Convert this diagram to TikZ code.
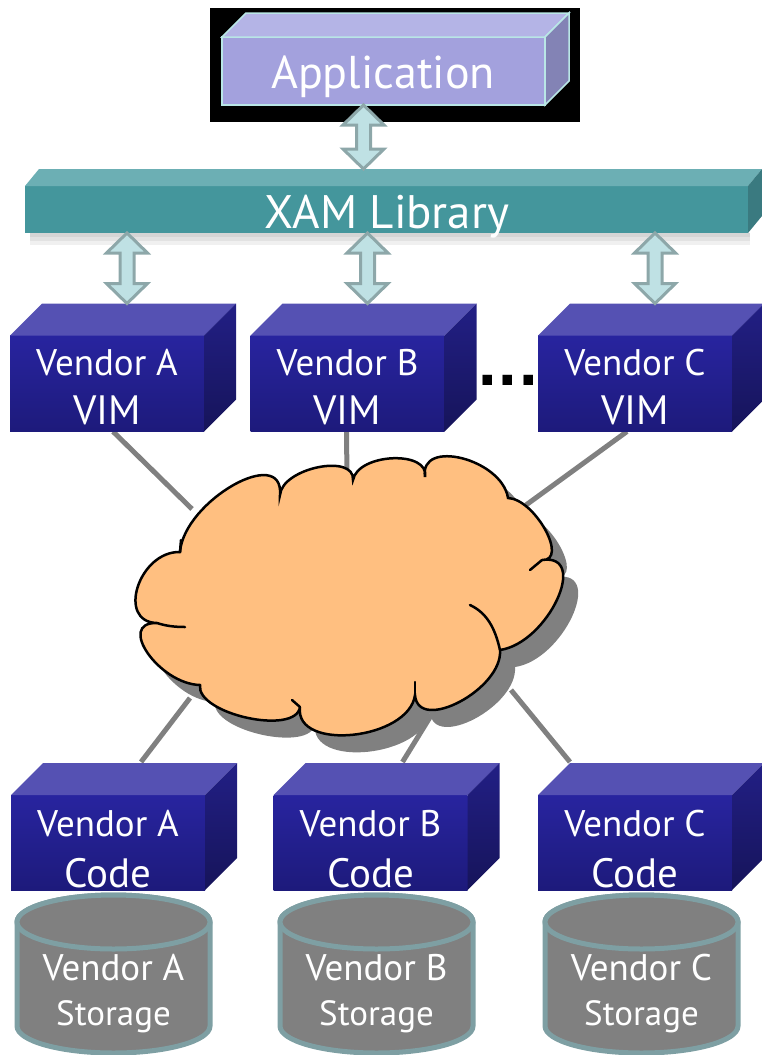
\documentclass[tikz,border=0pt]{standalone}
\usepackage{fontspec}
\setmainfont{PT Sans}
\newfontfamily\dotfont{DejaVu Sans}
\usetikzlibrary{calc}

\definecolor{appfront}{HTML}{A3A1DD}
\definecolor{apptop}{HTML}{B4B4E6}
\definecolor{appside}{HTML}{8383B5}
\definecolor{appedge}{HTML}{B9E6E6}
\definecolor{xamfront}{HTML}{44969C}
\definecolor{xamtop}{HTML}{6CAFB4}
\definecolor{xamside}{HTML}{3A7A80}
\definecolor{bluetopface}{HTML}{5551B3}
\definecolor{bluehi}{HTML}{28249F}
\definecolor{bluelo}{HTML}{1D1A7B}
\definecolor{bluesidehi}{HTML}{221F85}
\definecolor{bluesidelo}{HTML}{16145A}
\definecolor{arrfill}{HTML}{BFE1E4}
\definecolor{arredge}{HTML}{8DA7A9}
\definecolor{wire}{HTML}{808080}
\definecolor{cloudfill}{HTML}{FFBF80}
\definecolor{cloudshade}{HTML}{808080}
\definecolor{cylfill}{HTML}{808080}
\definecolor{cyledge}{HTML}{7E9FA3}

\pgfdeclarelayer{wires}
\pgfsetlayers{wires,main}

% side and top faces of a box whose front face is node #1
\newcommand\boxfaces[5]{%
  \path[#4] (#1.north west) -- ([shift={(#2,-#3)}]#1.north west)
     -- ([shift={(#2,-#3)}]#1.north east) -- (#1.north east) -- cycle;
  \path[#5] (#1.north east) -- ([shift={(#2,-#3)}]#1.north east)
     -- ([shift={(#2,-#3)}]#1.south east) -- (#1.south east) -- cycle;}

% block double arrow between an upper point and a lower point
\newcommand\dblarrow[2]{%
  \path[dblarr] let \p1=#1, \p2=#2 in
    (\x1,\y1) -- (\x1+20.5pt,\y1-20pt) -- (\x1+7pt,\y1-20pt)
    -- (\x1+7pt,\y2+20pt) -- (\x1+20.5pt,\y2+20pt) -- (\x1,\y2)
    -- (\x1-20.5pt,\y2+20pt) -- (\x1-7pt,\y2+20pt)
    -- (\x1-7pt,\y1-20pt) -- (\x1-20.5pt,\y1-20pt) -- cycle;}

% storage cylinder centred at x = #2, with a two-line label
\newcommand\storagecyl[4]{%
  \path[cyl] (#2-96.5,922) -- (#2-96.5,1026)
     arc[start angle=180,end angle=0,x radius=96.5,y radius=27]
     -- (#2+96.5,922)
     arc[start angle=0,end angle=-180,x radius=96.5,y radius=27] -- cycle;
  \path[cyl] (#2,922) ellipse[x radius=96.5,y radius=27];
  \node[stortext] (#1-1) at (#2,980) {#3};
  \node[stortext,font=\fontsize{35}{35}\selectfont] (#1-2) at (#2,1025) {#4};}

% two-line label on the front face of a module box
\newcommand\boxlabel[5]{%
  \node[linetext] (#1-1) at ([yshift=#4pt]#1.center) {#2};
  \node[linetext,font=\fontsize{41}{41}\selectfont] (#1-2) at ([yshift=-#5pt]#1.center) {#3};}

\newcommand\cloudpath{(180,552)
  .. controls (184,501) and (284,444) .. (280,495)
  .. controls (282,468) and (355,453) .. (353,480)
  .. controls (358,453) and (430,450) .. (425,477)
  .. controls (419,438) and (502,459) .. (508,498)
  .. controls (535,499) and (569,561) .. (542,560)
  .. controls (590,553) and (548,643) .. (500,650)
  .. controls (503,689) and (418,734) .. (415,695)
  .. controls (409,740) and (294,752) .. (300,707)
  .. controls (296,736) and (196,714) .. (200,685)
  .. controls (159,684) and (116,622) .. (157,623)
  .. controls (116,622) and (139,551) .. (180,552) -- cycle}

\begin{document}
\begin{tikzpicture}[x=1pt,y=-1pt,
  facebox/.style={inner sep=0pt,outer sep=0pt},
  appface/.style={facebox,fill=appfront,draw=appedge,line width=1.5pt,
     minimum width=323pt,minimum height=68pt},
  apptopface/.style={fill=apptop,draw=appedge,line width=1.5pt},
  appsideface/.style={fill=appside,draw=appedge,line width=1.5pt},
  xamface/.style={facebox,fill=xamfront,minimum width=723pt,minimum height=47pt},
  xamtopface/.style={fill=xamtop},
  xamsideface/.style={fill=xamside},
  blueface/.style={facebox,top color=bluehi,bottom color=bluelo,
     minimum width=194pt,minimum height=96pt},
  bluetop/.style={fill=bluetopface},
  blueside/.style={top color=bluesidehi,bottom color=bluesidelo},
  linetext/.style={text=white,inner sep=0pt,anchor=base,
     font=\fontsize{37}{37}\selectfont},
  bigtext/.style={text=white,inner sep=0pt,anchor=base,
     font=\fontsize{46}{46}\selectfont},
  stortext/.style={text=white,inner sep=0pt,anchor=base,
     font=\fontsize{37}{37}\selectfont},
  cyl/.style={fill=cylfill,draw=cyledge,line width=5pt},
  dblarr/.style={fill=arrfill,draw=arredge,line width=3pt,line join=miter},
  wireline/.style={draw=wire,line width=5pt},
  cloudline/.style={draw=black,line width=2.5pt,line cap=round}]

\useasboundingbox (0,0) rectangle (762,1055);

% application on its black panel
\fill[black] (210,8) rectangle (580,122);
\node[appface] (app) at (383.5,71) {};
\boxfaces{app}{24}{24}{apptopface}{appsideface}
\node[bigtext] (appT) at (383,88) {Application};

% XAM library bar with a soft shadow
\foreach \s in {4,8,12}
  \fill[black,opacity=0.06] (30,233) rectangle (750,233+\s);
\node[xamface] (xam) at (386.5,209.5) {};
\boxfaces{xam}{14}{17}{xamtopface}{xamsideface}
\node[bigtext,font=\fontsize{47}{47}\selectfont] (xamT) at (387,228) {XAM Library};

% vendor interface modules
\node[blueface] (vimA) at (107,383.5) {};
\boxfaces{vimA}{32}{32}{bluetop}{blueside}
\boxlabel{vimA}{Vendor A}{VIM}{8.5}{40.5}
\node[blueface] (vimB) at (347.5,383.5) {};
\boxfaces{vimB}{32}{32}{bluetop}{blueside}
\boxlabel{vimB}{Vendor B}{VIM}{8.5}{40.5}
\node[blueface] (vimC) at (635,383.5) {};
\boxfaces{vimC}{32}{32}{bluetop}{blueside}
\boxlabel{vimC}{Vendor C}{VIM}{8.5}{40.5}
\node[inner sep=0pt,anchor=base,font=\dotfont\bfseries\fontsize{54}{54}\selectfont] (dots) at (508,385) {...};

% vendor code modules
\node[blueface,minimum height=95pt] (codeA) at (108,842.5) {};
\boxfaces{codeA}{32}{32}{bluetop}{blueside}
\boxlabel{codeA}{Vendor A}{Code}{6.5}{44.5}
\node[blueface,minimum height=95pt] (codeB) at (370.5,842.5) {};
\boxfaces{codeB}{32}{32}{bluetop}{blueside}
\boxlabel{codeB}{Vendor B}{Code}{6.5}{44.5}
\node[blueface,minimum height=95pt] (codeC) at (635,842.5) {};
\boxfaces{codeC}{32}{32}{bluetop}{blueside}
\boxlabel{codeC}{Vendor C}{Code}{6.5}{44.5}

% storage systems
\storagecyl{storA}{113.5}{Vendor A}{Storage}
\storagecyl{storB}{376.5}{Vendor B}{Storage}
\storagecyl{storC}{641.5}{Vendor C}{Storage}

% attachment points on the network cloud
\coordinate (netA) at (192,509);
\coordinate (netB) at (347,478);
\coordinate (netC) at (526,505);
\coordinate (netD) at (190,698);
\coordinate (netE) at (432,714);
\coordinate (netF) at (511,690);

% wires to the network
\begin{pgfonlayer}{wires}
  \draw[wireline] ([xshift=6pt]vimA.south) -- (netA);
  \draw[wireline] ([xshift=-1pt]vimB.south) -- (netB);
  \draw[wireline] ([xshift=-8pt]vimC.south) -- (netC);
  \draw[wireline] (netD) -- ([xshift=33pt,yshift=33pt]codeA.north);
  \draw[wireline] (netE) -- ([xshift=32pt,yshift=33pt]codeB.north);
  \draw[wireline] (netF) -- ([xshift=-65pt,yshift=33pt]codeC.north);
\end{pgfonlayer}

% network cloud with its shadow
\fill[cloudshade,xshift=15pt,yshift=-17pt] \cloudpath;
\filldraw[cloudfill,cloudline] \cloudpath;
\draw[cloudline] (500,650) .. controls (495,628) and (487,613) .. (470,605);
\draw[cloudline] (157,623) .. controls (166,626) and (175,627) .. (185,627);
\draw[cloudline] (415,695) -- (415,682);
\draw[cloudline] (300,707) -- (292,700);
\draw[cloudline] (180,552) -- (181,540);
\draw[cloudline] (542,560) -- (530,570);

% arrows between the layers
\coordinate (upApp) at ([xshift=-20pt]app.south);
\coordinate (xamTop) at ([yshift=17pt]xam.north);
\dblarrow{(upApp)}{(upApp |- xamTop)}
\coordinate (topA) at ([xshift=20pt,yshift=32pt]vimA.north);
\coordinate (topB) at ([xshift=20pt,yshift=32pt]vimB.north);
\coordinate (topC) at ([xshift=20pt,yshift=32pt]vimC.north);
\dblarrow{(xam.south -| topA)}{(topA)}
\dblarrow{(xam.south -| topB)}{(topB)}
\dblarrow{(xam.south -| topC)}{(topC)}
\end{tikzpicture}
\end{document}
